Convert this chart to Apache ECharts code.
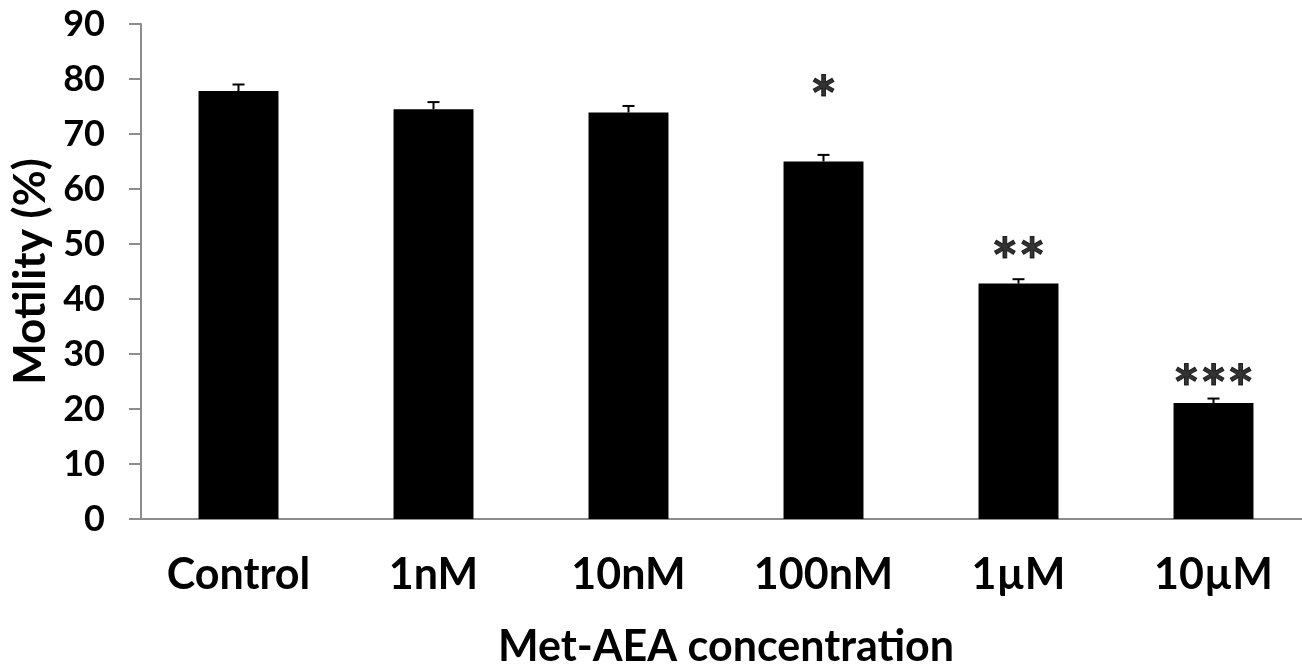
<!DOCTYPE html>
<html>
<head>
<meta charset="utf-8">
<script src="https://cdn.jsdelivr.net/npm/echarts@6/dist/echarts.min.js"></script>
<style>
  html, body { margin: 0; padding: 0; background: #fff; }
  #chart { width: 1302px; height: 667px; }
</style>
</head>
<body>
<div id="chart"></div>
<script>
const categories = ["Control", "1nM", "10nM", "100nM", "1µM", "10µM"];
const motility = [77.8, 74.5, 73.9, 65.0, 42.8, 21.1];
const errors = [1.2, 1.3, 1.2, 1.2, 0.8, 0.8];
// significance marks: text and the height they sit at
const sigText = ["", "", "", "*", "**", "***"];
const sigY = [null, null, null, 78.0, 48.5, 25.3];

const font = "Lato";
const axisGrey = "#8c8c8c";

const myChart = echarts.init(document.getElementById("chart"));

const sigData = [];
for (let i = 0; i < categories.length; i++) {
  if (sigText[i]) sigData.push({ value: [i, sigY[i]], name: sigText[i] });
}

myChart.setOption({
  animation: false,
  grid: { left: 141, right: -9, top: 24, bottom: 148, outerBoundsMode: "none" },
  xAxis: {
    type: "category",
    data: categories,
    name: "Met-AEA concentration",
    nameLocation: "middle",
    nameGap: 107,
    nameTextStyle: { fontFamily: font, fontWeight: "bold", fontSize: 43, color: "#000" },
    axisLine: { lineStyle: { color: axisGrey, width: 2 } },
    axisTick: { length: 15, lineStyle: { color: axisGrey, width: 2 } },
    axisLabel: { fontFamily: font, fontWeight: "bold", fontSize: 43, color: "#000", margin: 35 },
  },
  yAxis: {
    type: "value",
    min: 0,
    max: 90,
    interval: 10,
    name: "Motility (%)",
    nameLocation: "middle",
    nameGap: 82,
    nameRotate: 90,
    nameTextStyle: { fontFamily: font, fontWeight: "bold", fontSize: 44, color: "#000" },
    axisLine: { show: true, lineStyle: { color: axisGrey, width: 2 } },
    axisTick: { show: true, length: 12, lineStyle: { color: axisGrey, width: 2 } },
    axisLabel: { fontFamily: font, fontWeight: "bold", fontSize: 36, color: "#000", margin: 36 },
    splitLine: { show: false },
  },
  series: [
    {
      type: "bar",
      data: motility,
      barWidth: "41%",
      itemStyle: { color: "#000" },
    },
    {
      // error bars (upper only)
      type: "custom",
      data: motility.map((v, i) => [i, v, v + errors[i]]),
      renderItem: (params, api) => {
        const base = api.coord([api.value(0), api.value(1)]);
        const top = api.coord([api.value(0), api.value(2)]);
        const hw = 6;
        return {
          type: "group",
          children: [
            { type: "line", shape: { x1: base[0], y1: base[1], x2: top[0], y2: top[1] }, style: { stroke: "#000", lineWidth: 2 } },
            { type: "line", shape: { x1: top[0] - hw, y1: top[1], x2: top[0] + hw, y2: top[1] }, style: { stroke: "#000", lineWidth: 2 } },
          ],
        };
      },
      z: 3,
    },
    {
      type: "scatter",
      data: sigData,
      symbolSize: 0,
      label: {
        show: true,
        position: "inside",
        formatter: "{b}",
        fontFamily: font,
        fontWeight: "bold",
        fontSize: 64,
        color: "#000",
        textBorderColor: "#000",
        textBorderWidth: 1,
        offset: [0, 12],
      },
    },
  ],
});
</script>
</body>
</html>
